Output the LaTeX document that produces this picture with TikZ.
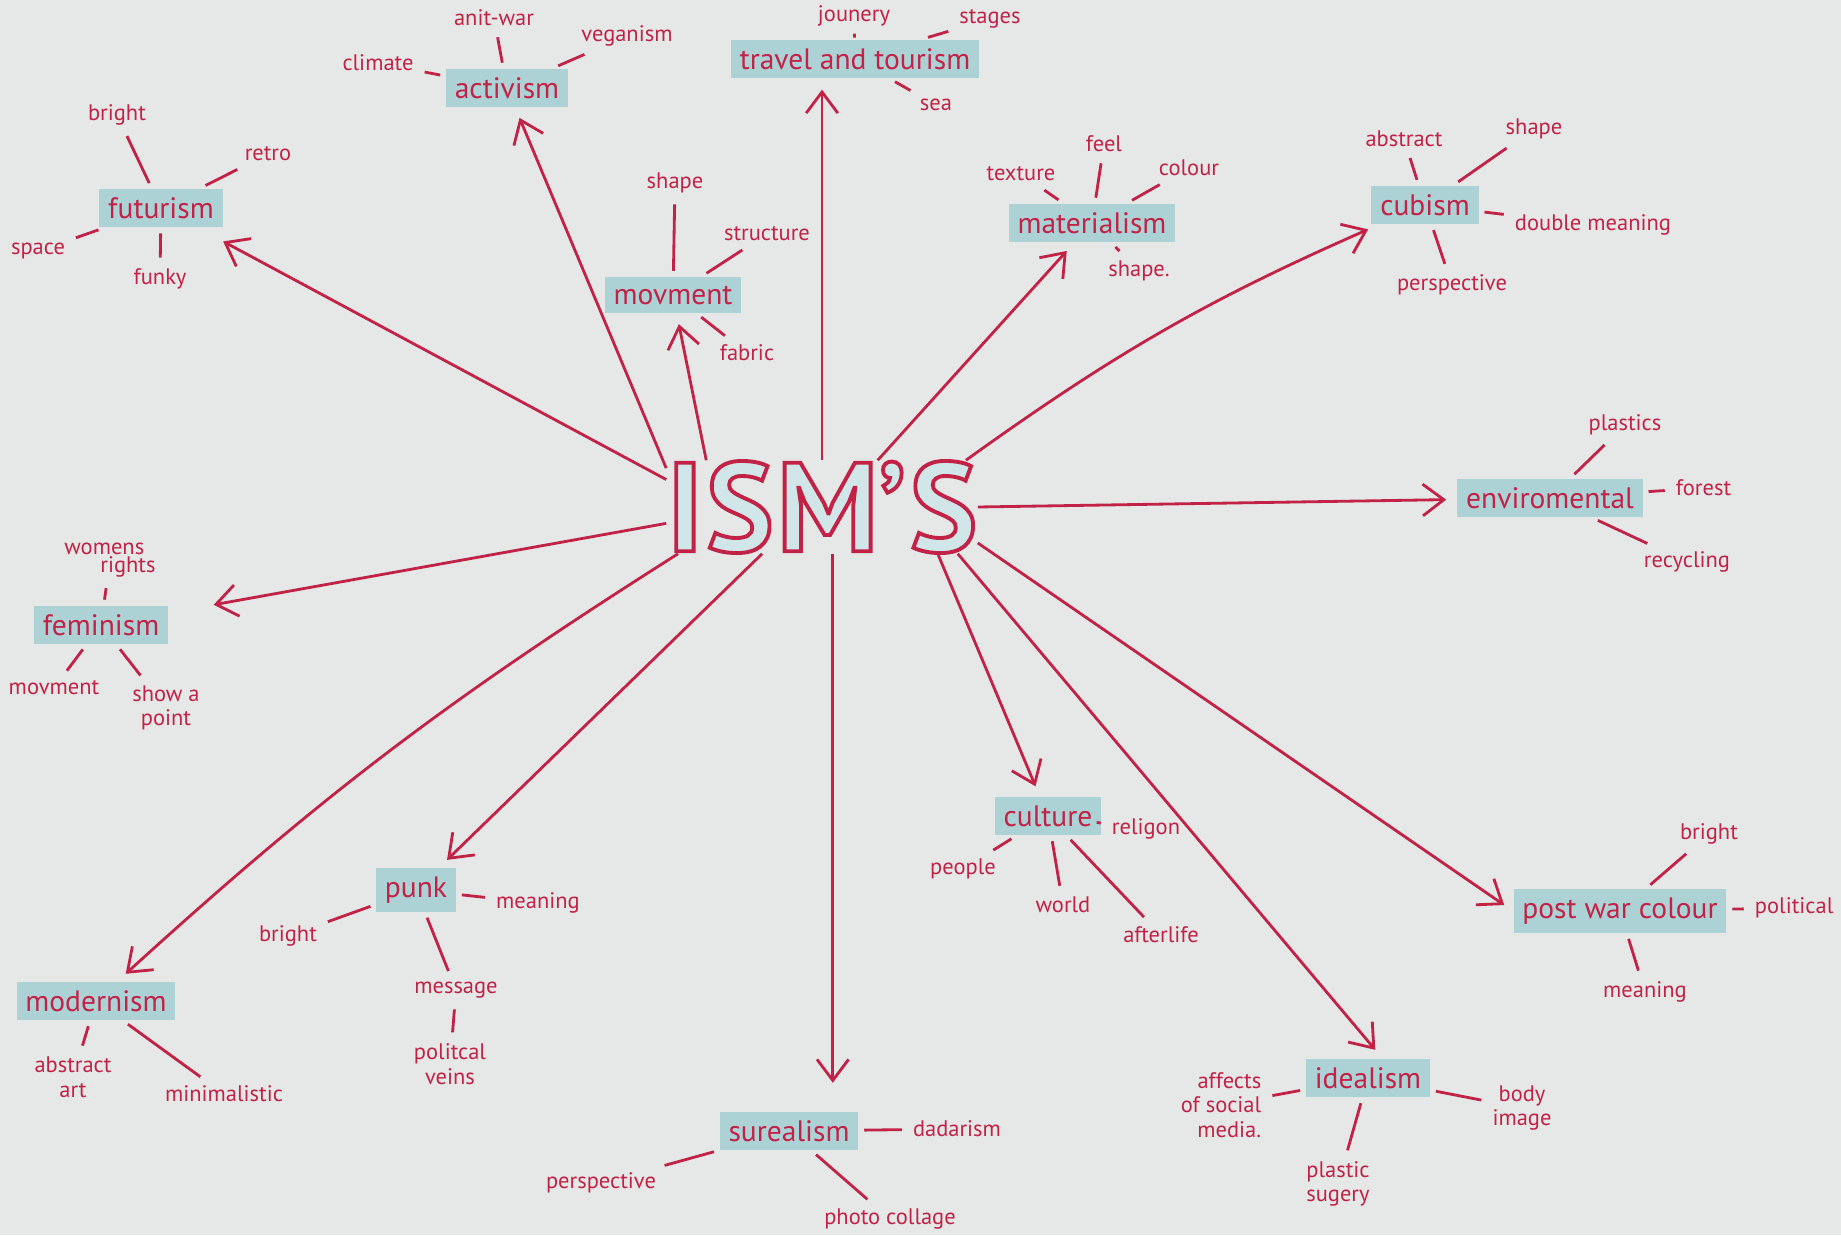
\documentclass[tikz,border=0pt]{standalone}
\usepackage{fontspec}
\setmainfont{PT Sans}
\usepackage{tikz}
\usetikzlibrary{positioning, arrows.meta}
\definecolor{ink}{RGB}{194,34,70}
\definecolor{wash}{RGB}{172,210,214}
\definecolor{paper}{RGB}{229,232,231}
\newcommand\hollow[1]{\special{pdf:literal direct q 2 Tr 1.1 w 0.76 0.133 0.275 RG}#1\special{pdf:literal direct Q}}
\tikzset{
  topic/.style={fill=wash, text=ink, inner sep=2.5pt, font=\fontsize{8.4}{9}\selectfont},
  sub/.style={text=ink, inner sep=1.5pt, align=center, font=\fontsize{6.4}{7}\selectfont},
  arr/.style={draw=ink, thick, ->, shorten >=3pt},
  tk/.style={draw=ink, thick, shorten <=1.5pt, shorten >=1.5pt}
}
\begin{document}
\begin{tikzpicture}[>={Straight Barb[length=6pt,width=9pt]}]
\fill[paper] (0,0) rectangle (18.41,-12.35);
\useasboundingbox (0,0) rectangle (18.41,-12.35);
% centre
\node[minimum width=2.9cm, minimum height=0.9cm, inner sep=0, text=wash!55] (ism) at (8.22,-5.07)
  {\fontsize{36}{36}\selectfont\bfseries\hollow{I\kern1pt S\kern1pt M’\kern1pt S}};
% topics
\node[topic] (fu) at (1.61,-2.08) {futurism};
\node[topic] (ac) at (5.07,-0.88) {activism};
\node[topic] (tr) at (8.55,-0.59) {travel and tourism};
\node[topic] (mv) at (6.73,-2.95) {movment};
\node[topic] (ma) at (10.92,-2.23) {materialism};
\node[topic] (cu) at (14.25,-2.05) {cubism};
\node[topic] (en) at (15.50,-4.98) {enviromental};
\node[topic] (fe) at (1.01,-6.25) {feminism};
\node[topic] (pu) at (4.16,-8.90) {punk};
\node[topic] (mo) at (0.96,-10.01) {modernism};
\node[topic] (su) at (7.89,-11.31) {surealism};
\node[topic] (cl) at (10.48,-8.16) {culture};
\node[topic] (id) at (13.68,-10.78) {idealism};
\node[topic] (pw) at (16.20,-9.11) {post war colour};
% arrows
\draw[arr, shorten >=8pt] (ism.170) -- (fu);
\draw[arr] (ism.166) -- (ac);
\draw[arr] (ism.158) -- (mv);
\draw[arr] (ism.north) -- (ism.north |- tr.south);
\draw[arr] (ism.40) -- (ma);
\draw[arr] (ism.18) to[bend left=6] (cu);
\draw[arr] (ism.east) -- (en);
\draw[arr, shorten >=13pt] (ism.186) -- (fe);
\draw[arr] (ism.198) to[bend right=5] (mo);
\draw[arr] (ism.218) -- (pu);
\draw[arr, shorten >=8pt] (ism.283) -- (ism.283 |- su.north);
\draw[arr] (ism.338) -- (cl);
\draw[arr] (ism.341) -- ([xshift=4pt]id.north);
\draw[arr] (ism.347) -- (pw.west);
% futurism
\node[sub] (fu1) at (1.17,-1.15) {bright};
\node[sub] (fu2) at (2.68,-1.54) {retro};
\node[sub] (fu3) at (0.38,-2.51) {space};
\node[sub] (fu4) at (1.60,-2.79) {funky};
\draw[tk] (fu) -- (fu1);
\draw[tk] (fu) -- (fu2);
\draw[tk] (fu) -- (fu3);
\draw[tk] (fu) -- (fu4);
% activism
\node[sub] (ac1) at (3.78,-0.63) {climate};
\node[sub] (ac2) at (4.94,-0.18) {anit-war};
\node[sub] (ac3) at (6.27,-0.36) {veganism};
\draw[tk] (ac) -- (ac1);
\draw[tk] (ac) -- (ac2);
\draw[tk] (ac) -- (ac3);
% travel
\node[sub] (tr1) at (8.54,-0.16) {jounery};
\node[sub] (tr2) at (9.90,-0.19) {stages};
\node[sub] (tr3) at (9.36,-1.05) {sea};
\draw[tk] (tr) -- (tr1);
\draw[tk] (tr) -- (tr2);
\draw[tk] (tr) -- (tr3);
% movment
\node[sub] (mv1) at (6.75,-1.83) {shape};
\node[sub] (mv2) at (7.67,-2.34) {structure};
\node[sub] (mv3) at (7.47,-3.53) {fabric};
\draw[tk] (mv) -- (mv1);
\draw[tk] (mv) -- (mv2);
\draw[tk] (mv) -- (mv3);
% materialism
\node[sub] (ma1) at (10.21,-1.74) {texture};
\node[sub] (ma2) at (11.04,-1.44) {feel};
\node[sub] (ma3) at (11.89,-1.68) {colour};
\node[sub] (ma4) at (11.39,-2.71) {shape.};
\draw[tk] (ma) -- (ma1);
\draw[tk] (ma) -- (ma2);
\draw[tk] (ma) -- (ma3);
\draw[tk] (ma) -- (ma4);
% cubism
\node[sub] (cu1) at (14.04,-1.39) {abstract};
\node[sub] (cu2) at (15.34,-1.29) {shape};
\node[sub, anchor=west] (cu3) at (15.09,-2.25) {double meaning};
\node[sub] (cu4) at (14.52,-2.85) {perspective};
\draw[tk] (cu) -- (cu1);
\draw[tk] (cu) -- (cu2);
\draw[tk] (cu) -- (cu3);
\draw[tk] (cu) -- (cu4);
% enviromental
\node[sub] (en1) at (16.25,-4.25) {plastics};
\node[sub, anchor=west] (en2) at (16.70,-4.88) {forest};
\node[sub] (en3) at (16.87,-5.62) {recycling};
\draw[tk] (en) -- (en1);
\draw[tk] (en) -- (en2);
\draw[tk] (en) -- (en3);
% feminism
\node[sub, align=left] (fe1) at (1.10,-5.60) {womens\\[-2pt]\hspace*{1.6em}rights};
\node[sub] (fe2) at (0.54,-6.88) {movment};
\node[sub] (fe3) at (1.66,-7.08) {show a\\point};
\draw[tk] (fe) -- (fe1);
\draw[tk] (fe) -- (fe2);
\draw[tk] (fe) -- (fe3);
% modernism
\node[sub] (mo1) at (0.73,-10.77) {abstract\\art};
\node[sub] (mo2) at (2.24,-10.94) {minimalistic};
\draw[tk] (mo) -- (mo1);
\draw[tk] (mo) -- (mo2);
% punk
\node[sub] (pu1) at (2.88,-9.36) {bright};
\node[sub] (pu2) at (5.38,-9.03) {meaning};
\node[sub] (pu3) at (4.56,-9.90) {message};
\node[sub] (pu4) at (4.50,-10.64) {politcal\\veins};
\draw[tk] (pu) -- (pu1);
\draw[tk] (pu) -- (pu2);
\draw[tk] (pu) -- (pu3);
\draw[tk] (pu3) -- (pu4);
% culture
\node[sub] (cl1) at (9.63,-8.69) {people};
\node[sub] (cl2) at (11.46,-8.29) {religon};
\node[sub] (cl3) at (10.63,-9.05) {world};
\node[sub] (cl4) at (11.61,-9.35) {afterlife};
\draw[tk] (cl) -- (cl1);
\draw[tk] (cl) -- (cl2);
\draw[tk] (cl) -- (cl3);
\draw[tk] (cl) -- (cl4);
% idealism
\node[sub, align=right] (id1) at (12.21,-11.05) {affects\\of social\\media.};
\node[sub] (id2) at (15.22,-11.08) {body\\image};
\node[sub] (id3) at (13.38,-11.84) {plastic\\sugery};
\draw[tk] (id) -- (id1);
\draw[tk] (id) -- (id2);
\draw[tk] (id) -- (id3);
% surealism
\node[sub] (su1) at (6.01,-11.83) {perspective};
\node[sub] (su2) at (9.57,-11.29) {dadarism};
\node[sub] (su3) at (8.90,-12.19) {photo collage};
\draw[tk] (su) -- (su1);
\draw[tk] (su) -- (su2);
\draw[tk] (su) -- (su3);
% post war colour
\node[sub] (pw1) at (17.09,-8.34) {bright};
\node[sub, anchor=west] (pw2) at (17.49,-9.08) {political};
\node[sub] (pw3) at (16.45,-9.92) {meaning};
\draw[tk] (pw) -- (pw1);
\draw[tk] (pw) -- (pw2);
\draw[tk] (pw) -- (pw3);
\end{tikzpicture}
\end{document}
